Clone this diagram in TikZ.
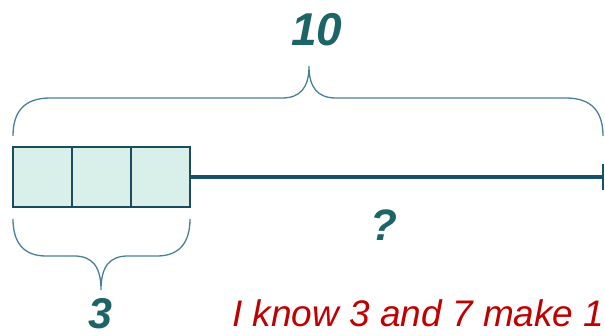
\documentclass[tikz,border=0pt]{standalone}
\usepackage{fontspec}
\setmainfont{Liberation Sans}
\definecolor{tealtxt}{HTML}{1C6466}
\definecolor{bracec}{HTML}{4A7F9C}
\definecolor{barline}{HTML}{18506A}
\definecolor{boxfill}{HTML}{D9EFE9}
\definecolor{boxdraw}{HTML}{1B4B5C}
\definecolor{redtxt}{HTML}{C00000}
\tikzset{
  cell/.style={draw=boxdraw, line width=2.6pt, fill=boxfill, minimum width=59pt, minimum height=60pt, inner sep=0pt, outer sep=0pt},
  bracepath/.style={draw=bracec, line width=1.3pt},
  numlabel/.style={text=tealtxt, font=\fontsize{46}{50}\selectfont\bfseries\itshape, inner sep=0pt},
  smalllabel/.style={text=tealtxt, font=\fontsize{43}{46}\selectfont\bfseries\itshape, inner sep=0pt},
  qlabel/.style={text=tealtxt, font=\fontsize{44}{48}\selectfont\bfseries\itshape, inner sep=0pt},
  saytext/.style={text=redtxt, font=\fontsize{37}{42}\selectfont\itshape, inner sep=0pt, anchor=base west},
}
\begin{document}
\begin{tikzpicture}[x=1pt,y=-1pt]
\useasboundingbox (0,0) rectangle (605,336);
% bar cells
\node[cell] (c1) at (42.5,177) {};
\node[cell] (c2) at (101.5,177) {};
\node[cell] (c3) at (160.5,177) {};
\coordinate (lend) at (603,177);
\coordinate (ttop) at (603,164);
\coordinate (tbot) at (603,190);
\draw[barline, line width=3.2pt] (c3.east) -- (lend);
\draw[barline, line width=2.6pt] (ttop) -- (tbot);
% top brace
\coordinate (tl) at (13,136);
\coordinate (tr) at (603,136);
\coordinate (tt) at (309,66);
\path[bracepath] (tl) .. controls (13,112) and (24,98) .. (50,98) -- (282,98)
  .. controls (300,98) and (309,88) .. (tt)
  .. controls (309,88) and (318,98) .. (336,98) -- (566,98)
  .. controls (592,98) and (603,112) .. (tr);
% bottom brace
\coordinate (bl) at (13,219);
\coordinate (br) at (190,219);
\coordinate (bt) at (101,290);
\path[bracepath] (bl) .. controls (13,243) and (24,256) .. (46,256) -- (74,256)
  .. controls (92,256) and (101,266) .. (bt)
  .. controls (101,266) and (110,256) .. (128,256) -- (157,256)
  .. controls (179,256) and (190,243) .. (br);
% labels
\node[numlabel] (ten) at (317,30) {10};
\node[smalllabel] (three) at (100,314) {3};
\node[qlabel] (q) at (384,225) {?};
\node[saytext] (say) at (232,327) {I know 3 and 7 make 1};
\end{tikzpicture}
\end{document}
